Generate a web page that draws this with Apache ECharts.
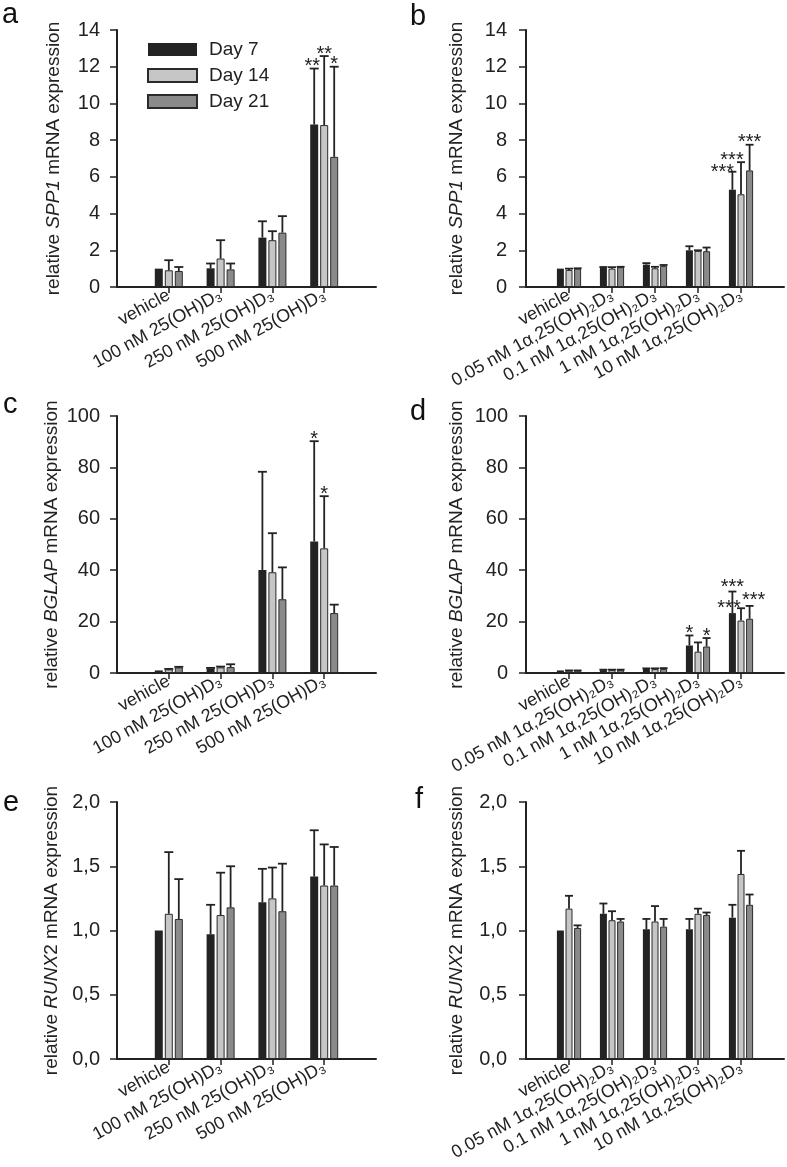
<!DOCTYPE html>
<html>
<head>
<meta charset="utf-8">
<script src="https://cdn.jsdelivr.net/npm/echarts@6/dist/echarts.min.js"></script>
<style>
html,body{margin:0;padding:0;background:#fff;}
#chart{width:787px;height:1167px;}
</style>
</head>
<body>
<div id="chart"></div>
<script>
// ---------------- DATA ----------------
const seriesNames = ['Day 7', 'Day 14', 'Day 21'];
const cats25 = ['vehicle', '100 nM 25(OH)D₃', '250 nM 25(OH)D₃', '500 nM 25(OH)D₃'];
const cats1a25 = ['vehicle', '0.05 nM 1α,25(OH)₂D₃', '0.1 nM 1α,25(OH)₂D₃', '1 nM 1α,25(OH)₂D₃', '10 nM 1α,25(OH)₂D₃'];
const ticksSPP1 = [0, 2, 4, 6, 8, 10, 12, 14];
const ticksBGLAP = [0, 20, 40, 60, 80, 100];
const ticksRUNX2 = [0, 0.5, 1.0, 1.5, 2.0];

// panel a: SPP1, 25(OH)D3   (mean, upper end of error bar, significance)
const a_d7 = [1.0, 1.02, 2.69, 8.85];
const a_d7_top = [null, 1.28, 3.58, 11.9];
const a_d14 = [0.91, 1.55, 2.55, 8.82];
const a_d14_top = [1.46, 2.55, 3.04, 12.58];
const a_d21 = [0.87, 0.96, 2.96, 7.09];
const a_d21_top = [1.09, 1.28, 3.86, 12.0];
const a_d7_sig = ['', '', '', '**'];
const a_d14_sig = ['', '', '', '**'];
const a_d21_sig = ['', '', '', '*'];

// panel b: SPP1, 1a,25(OH)2D3
const b_d7 = [1.0, 1.07, 1.22, 2.0, 5.3];
const b_d7_top = [null, 1.09, 1.3, 2.22, 6.28];
const b_d14 = [0.93, 1.0, 1.02, 1.97, 5.05];
const b_d14_top = [1.0, 1.08, 1.1, 2.0, 6.8];
const b_d21 = [1.0, 1.08, 1.15, 1.95, 6.35];
const b_d21_top = [1.02, 1.1, 1.2, 2.15, 7.75];
const b_d7_sig = ['', '', '', '', '***'];
const b_d14_sig = ['', '', '', '', '***'];
const b_d21_sig = ['', '', '', '', '***'];

// panel c: BGLAP, 25(OH)D3
const c_d7 = [1.0, 1.8, 40.1, 51.2];
const c_d7_top = [null, 2.0, 78.3, 90.2];
const c_d14 = [1.4, 2.2, 39.2, 48.5];
const c_d14_top = [1.6, 2.5, 54.4, 68.8];
const c_d21 = [2.2, 2.3, 28.7, 23.3];
const c_d21_top = [2.4, 3.4, 41.1, 26.6];
const c_d7_sig = ['', '', '', '*'];
const c_d14_sig = ['', '', '', '*'];
const c_d21_sig = ['', '', '', ''];

// panel d: BGLAP, 1a,25(OH)2D3
const d_d7 = [1.0, 1.1, 1.6, 10.7, 23.3];
const d_d7_top = [null, 1.3, 1.8, 14.6, 31.7];
const d_d14 = [0.9, 1.1, 1.5, 8.3, 20.4];
const d_d14_top = [1.0, 1.3, 1.8, 11.9, 25.2];
const d_d21 = [0.9, 1.1, 1.6, 10.3, 21.1];
const d_d21_top = [1.0, 1.3, 1.9, 13.6, 26.1];
const d_d7_sig = ['', '', '', '*', '***'];
const d_d14_sig = ['', '', '', '', '***'];
const d_d21_sig = ['', '', '', '*', '***'];

// panel e: RUNX2, 25(OH)D3
const e_d7 = [1.0, 0.97, 1.22, 1.42];
const e_d7_top = [null, 1.2, 1.48, 1.78];
const e_d14 = [1.13, 1.12, 1.25, 1.35];
const e_d14_top = [1.61, 1.45, 1.49, 1.67];
const e_d21 = [1.09, 1.18, 1.15, 1.35];
const e_d21_top = [1.4, 1.5, 1.52, 1.65];

// panel f: RUNX2, 1a,25(OH)2D3
const f_d7 = [1.0, 1.13, 1.01, 1.01, 1.1];
const f_d7_top = [null, 1.21, 1.09, 1.09, 1.2];
const f_d14 = [1.17, 1.08, 1.07, 1.13, 1.44];
const f_d14_top = [1.27, 1.15, 1.19, 1.17, 1.62];
const f_d21 = [1.02, 1.07, 1.03, 1.12, 1.2];
const f_d21_top = [1.04, 1.09, 1.09, 1.14, 1.28];

// ---------------- LAYOUT / STYLE ----------------
const FONT = '"Liberation Sans", Arial, Helvetica, sans-serif';
const INK = '#222222';
const colors = ['#232323', '#c6c6c6', '#8a8a8a'];
const empty = [];

const panelDefs = [
  {letter: 'a', lx: 2, ly: 0, grid: {left: 117, top: 30, width: 259, height: 257}, cats: cats25, gene: 'SPP1', suffix: '', ticks: ticksSPP1,
   vals: [a_d7, a_d14, a_d21], tops: [a_d7_top, a_d14_top, a_d21_top], sigs: [a_d7_sig, a_d14_sig, a_d21_sig], barW: 8, gap: 2, nameGap: 54, lblM: 17},
  {letter: 'b', lx: 410, ly: 2, grid: {left: 526, top: 30, width: 258, height: 257}, cats: cats1a25, gene: 'SPP1', suffix: '', ticks: ticksSPP1,
   vals: [b_d7, b_d14, b_d21], tops: [b_d7_top, b_d14_top, b_d21_top], sigs: [b_d7_sig, b_d14_sig, b_d21_sig], barW: 7, gap: 1.6, nameGap: 60, lblM: 19},
  {letter: 'c', lx: 3, ly: 390, grid: {left: 117, top: 416, width: 259, height: 257}, cats: cats25, gene: 'BGLAP', suffix: '', ticks: ticksBGLAP,
   vals: [c_d7, c_d14, c_d21], tops: [c_d7_top, c_d14_top, c_d21_top], sigs: [c_d7_sig, c_d14_sig, c_d21_sig], barW: 8, gap: 2, nameGap: 56, lblM: 17},
  {letter: 'd', lx: 410, ly: 397, grid: {left: 526, top: 416, width: 258, height: 257}, cats: cats1a25, gene: 'BGLAP', suffix: '', ticks: ticksBGLAP,
   vals: [d_d7, d_d14, d_d21], tops: [d_d7_top, d_d14_top, d_d21_top], sigs: [d_d7_sig, d_d14_sig, d_d21_sig], barW: 7, gap: 1.6, nameGap: 60, lblM: 18},
  {letter: 'e', lx: 3, ly: 788, grid: {left: 117, top: 802, width: 259, height: 257}, cats: cats25, gene: 'RUNX', suffix: '2', ticks: ticksRUNX2, comma: true,
   vals: [e_d7, e_d14, e_d21], tops: [e_d7_top, e_d14_top, e_d21_top], sigs: [empty, empty, empty], barW: 8, gap: 2, nameGap: 56, lblM: 17},
  {letter: 'f', lx: 415, ly: 785, grid: {left: 526, top: 802, width: 258, height: 257}, cats: cats1a25, gene: 'RUNX', suffix: '2', ticks: ticksRUNX2, comma: true,
   vals: [f_d7, f_d14, f_d21], tops: [f_d7_top, f_d14_top, f_d21_top], sigs: [empty, empty, empty], barW: 7, gap: 1.6, nameGap: 60, lblM: 19}
];

// star label nudges (pixels): key = panelIndex-category-day
const starNudge = {
  '0-3-0': [-2, 0],
  '1-4-0': [-10, 3], '1-4-1': [-9, 0],
  '3-4-0': [0, -2], '3-4-1': [-12, 2], '3-4-2': [4, -3]
};

const grids = [], xAxes = [], yAxes = [], series = [], graphics = [];

panelDefs.forEach((p, pi) => {
  grids.push(Object.assign({outerBoundsMode: 'none', containLabel: false}, p.grid));
  const padded = [''].concat(p.cats, ['']);
  const n = padded.length;
  xAxes.push({
    type: 'category', gridIndex: pi, data: padded, boundaryGap: false,
    axisLine: {lineStyle: {color: INK, width: 2}},
    axisTick: {show: true, length: 6, lineStyle: {color: INK, width: 1.5},
      interval: (i) => i > 0 && i < n - 1},
    axisLabel: {interval: 0, rotate: 29, margin: 7, fontSize: 18, color: INK, fontFamily: FONT},
    splitLine: {show: false}
  });
  const t = p.ticks;
  yAxes.push({
    type: 'value', gridIndex: pi, min: t[0], max: t[t.length - 1], interval: t[1] - t[0],
    axisLine: {show: true, lineStyle: {color: INK, width: 2}},
    axisTick: {show: true, length: 7, lineStyle: {color: INK, width: 1.5}},
    axisLabel: {fontSize: 20, color: INK, fontFamily: FONT, margin: p.lblM,
      formatter: p.comma ? (v) => v.toFixed(1).replace('.', ',') : (v) => String(v)},
    splitLine: {show: false},
    name: '{n|relative }{i|' + p.gene + '}{n|' + p.suffix + ' mRNA expression}',
    nameLocation: 'middle', nameGap: p.nameGap, nameRotate: 90,
    nameTextStyle: {fontSize: 19, color: INK, fontFamily: FONT,
      rich: {n: {fontSize: 19, color: INK, fontFamily: FONT}, i: {fontSize: 19, color: INK, fontFamily: FONT, fontStyle: 'italic'}}}
  });

  const groupW = 3 * p.barW + 2 * p.gap;
  p.vals.forEach((vals, di) => {
    series.push({
      type: 'bar', name: seriesNames[di], xAxisIndex: pi, yAxisIndex: pi,
      data: ['-'].concat(vals, ['-']),
      barWidth: p.barW, barGap: (p.gap / p.barW * 100) + '%',
      itemStyle: {color: colors[di], borderColor: '#2a2a2a', borderWidth: di === 0 ? 0 : 1},
      emphasis: {disabled: true}, animation: false, z: 2
    });
    const errData = [];
    vals.forEach((v, ci) => {
      const top = p.tops[di][ci];
      const sig = p.sigs[di][ci] || '';
      if (top == null && !sig) return;
      errData.push([ci + 1, v, top == null ? v : top, sig, top == null ? 0 : 1, ci]);
    });
    const offset = -groupW / 2 + p.barW / 2 + di * (p.barW + p.gap);
    series.push({
      type: 'custom', xAxisIndex: pi, yAxisIndex: pi, clip: false, z: 5, animation: false,
      silent: true,
      data: errData,
      renderItem: (params, api) => {
        const idx = api.value(0), v = api.value(1), top = api.value(2);
        const hasErr = api.value(4);
        const ci = api.value(5);
        const sig = errData[params.dataIndex][3];
        const p0 = api.coord([idx, v]);
        const p1 = api.coord([idx, top]);
        const x = p0[0] + offset;
        const children = [];
        if (hasErr) {
          children.push({type: 'line', shape: {x1: x, y1: p0[1], x2: x, y2: p1[1]}, style: {stroke: INK, lineWidth: 1.8}});
          children.push({type: 'line', shape: {x1: x - p.barW / 2 - 0.5, y1: p1[1], x2: x + p.barW / 2 + 0.5, y2: p1[1]}, style: {stroke: INK, lineWidth: 1.8}});
        }
        if (sig) {
          const nud = starNudge[pi + '-' + ci + '-' + di] || [0, 0];
          children.push({type: 'text', x: x + nud[0], y: p1[1] - 2 + nud[1],
            style: {text: sig, fontSize: 20, fontFamily: FONT, fill: INK, align: 'center', verticalAlign: 'middle'}});
        }
        return {type: 'group', children: children};
      }
    });
  });

  graphics.push({type: 'text', left: p.lx, top: p.ly,
    style: {text: p.letter, fontSize: 29, fontFamily: FONT, fill: '#111'}});
});

const chart = echarts.init(document.getElementById('chart'), null, {renderer: 'canvas'});
chart.setOption({
  backgroundColor: '#ffffff',
  animation: false,
  textStyle: {fontFamily: FONT},
  grid: grids,
  xAxis: xAxes,
  yAxis: yAxes,
  legend: {
    data: seriesNames, orient: 'vertical', left: 142, top: 35,
    itemWidth: 49, itemHeight: 13, itemGap: 7, icon: 'rect',
    textStyle: {fontSize: 19, color: INK, fontFamily: FONT, padding: [0, 0, 0, 7]},
    selectedMode: false
  },
  graphic: graphics,
  series: series
});
</script>
</body>
</html>
